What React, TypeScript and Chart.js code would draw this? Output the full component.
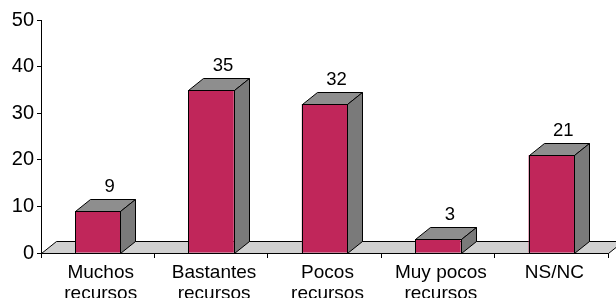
import React, { useEffect, useRef } from "react";
import { Chart, registerables } from "chart.js";

Chart.register(...registerables);

const categories: string[][] = [
  ["Muchos", "recursos"],
  ["Bastantes", "recursos"],
  ["Pocos", "recursos"],
  ["Muy pocos", "recursos"],
  ["NS/NC"],
];
const values: number[] = [9, 35, 32, 3, 21];
const yTicks: number[] = [0, 10, 20, 30, 40, 50];

const FRONT = "#C0265A";
const SIDE = "#7a7a7a";
const TOP = "#8e8e8e";
const FLOOR = "#d0d0d0";
const DX = 15;
const DY = -12;
const FONT = "'Liberation Sans', Arial, sans-serif";

const threeD = {
  id: "threeD",
  beforeDatasetsDraw(chart: any) {
    const { ctx, chartArea } = chart;
    const yScale = chart.scales.y;
    const b = Math.round(yScale.getPixelForValue(0)) + 0.5;
    const l = Math.round(chartArea.left) + 0.5;
    const r = Math.round(chartArea.right) + 0.5;
    ctx.save();
    ctx.beginPath();
    ctx.moveTo(l, b);
    ctx.lineTo(l + DX, b + DY);
    ctx.lineTo(r + DX, b + DY);
    ctx.lineTo(r, b);
    ctx.closePath();
    ctx.fillStyle = FLOOR;
    ctx.fill();
    ctx.strokeStyle = "#000";
    ctx.lineWidth = 1;
    ctx.stroke();
    ctx.restore();
  },
  afterDatasetsDraw(chart: any) {
    const { ctx } = chart;
    const meta = chart.getDatasetMeta(0);
    ctx.save();
    ctx.lineWidth = 1;
    ctx.strokeStyle = "#000";
    meta.data.forEach((bar: any, i: number) => {
      const p = bar.getProps(["x", "y", "base", "width"], true);
      const left = Math.round(p.x - p.width / 2) + 0.5;
      const right = Math.round(p.x + p.width / 2) + 0.5;
      const top = Math.round(p.y) + 0.5;
      const bottom = Math.round(p.base) + 0.5;
      // top face
      ctx.beginPath();
      ctx.moveTo(left, top);
      ctx.lineTo(right, top);
      ctx.lineTo(right + DX, top + DY);
      ctx.lineTo(left + DX, top + DY);
      ctx.closePath();
      ctx.fillStyle = TOP;
      ctx.fill();
      ctx.stroke();
      // side face
      ctx.beginPath();
      ctx.moveTo(right, top);
      ctx.lineTo(right + DX, top + DY);
      ctx.lineTo(right + DX, bottom + DY);
      ctx.lineTo(right, bottom);
      ctx.closePath();
      ctx.fillStyle = SIDE;
      ctx.fill();
      ctx.stroke();
      // front outline
      ctx.strokeRect(left, top, right - left, bottom - top);
      // label
      ctx.fillStyle = "#000";
      ctx.font = `18.5px ${FONT}`;
      ctx.textAlign = "center";
      ctx.textBaseline = "middle";
      ctx.fillText(String(values[i]), p.x + 12, top + DY - 13);
    });
    ctx.restore();
  },
};

export default function App() {
  const ref = useRef<HTMLCanvasElement | null>(null);
  useEffect(() => {
    if (!ref.current) return;
    const chart = new Chart(ref.current, {
      type: "bar",
      data: {
        labels: categories,
        datasets: [
          {
            data: values,
            backgroundColor: FRONT,
            borderWidth: 0,
            categoryPercentage: 1,
            barPercentage: 0.4,
          },
        ],
      },
      options: {
        animation: false,
        responsive: true,
        maintainAspectRatio: false,
        layout: { padding: { top: 20, right: 8, left: 0, bottom: 0 } },
        plugins: { legend: { display: false }, tooltip: { enabled: false } },
        scales: {
          x: {
            grid: {
              display: true,
              drawOnChartArea: false,
              drawTicks: true,
              tickLength: 5,
              color: "#000",
              offset: true,
            },
            border: { display: true, color: "#000" },
            ticks: {
              color: "#000",
              font: { family: FONT, size: 19, lineHeight: 1.1 },
              maxRotation: 0,
              autoSkip: false,
              padding: 4,
              labelOffset: 3,
            },
            afterFit(scale: any) {
              scale.height = 45;
            },
          },
          y: {
            min: 0,
            max: 50,
            afterBuildTicks(scale: any) {
              scale.ticks = yTicks.map((v) => ({ value: v }));
            },
            grid: {
              display: true,
              drawOnChartArea: false,
              drawTicks: true,
              tickLength: 4,
              color: "#000",
            },
            border: { display: true, color: "#000" },
            ticks: {
              color: "#000",
              font: { family: FONT, size: 20 },
              padding: 3,
            },
            afterFit(scale: any) {
              scale.width = 41;
            },
          },
        },
      },
      plugins: [threeD],
    });
    return () => chart.destroy();
  }, []);
  return (
    <div style={{ position: "fixed", left: 0, top: 0, width: 616, height: 298, background: "#fff" }}>
      <canvas ref={ref} />
    </div>
  );
}
